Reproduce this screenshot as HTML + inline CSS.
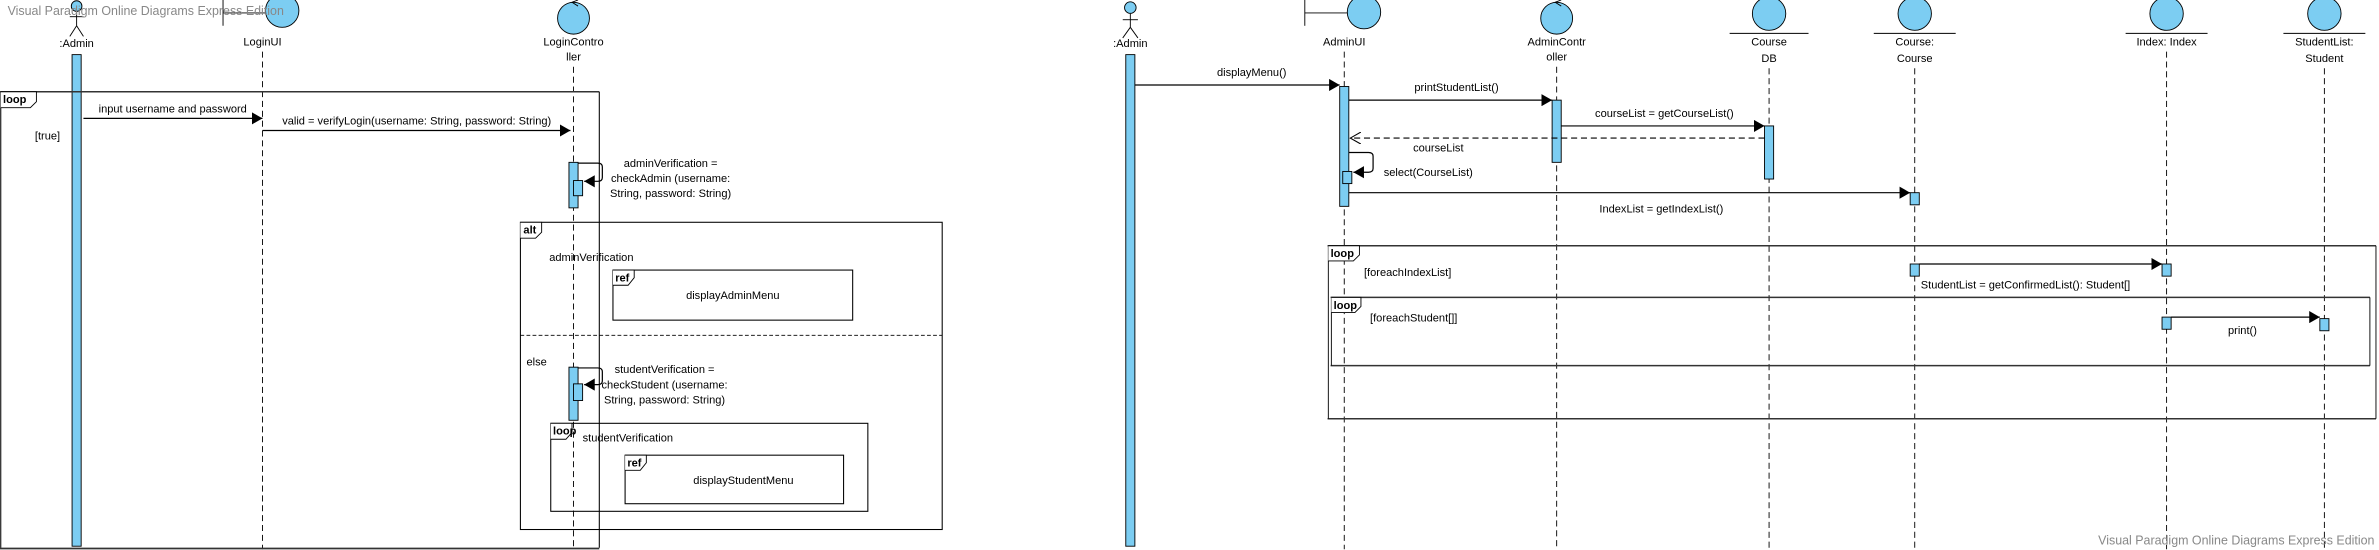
<!DOCTYPE html>
<html><head><meta charset="utf-8"><style>
html,body{margin:0;padding:0;background:#fff;}
svg{display:block;}
text{font-family:"Liberation Sans",Arial,sans-serif;font-size:7.3px;fill:#000;}
.b{font-weight:bold;}
.ll{stroke:#000;stroke-width:0.6;stroke-dasharray:4,2.5;fill:none;}
.act{fill:#7ccdf2;stroke:#000;stroke-width:0.6;}
.fr{fill:none;stroke:#000;stroke-width:0.7;}
.msg{stroke:#000;stroke-width:0.8;fill:none;}
.wm{fill:#888;font-size:8.2px;}
</style></head><body>
<svg width="2379" height="550" viewBox="0 0 1568 362.5" preserveAspectRatio="none" xmlns="http://www.w3.org/2000/svg">
<defs>
<marker id="ar" markerWidth="8" markerHeight="8" refX="7" refY="4" orient="auto" markerUnits="userSpaceOnUse">
<path d="M0,0 L7,4 L0,8 Z" fill="#000"/></marker>
<marker id="op" markerWidth="8" markerHeight="8" refX="7" refY="4" orient="auto" markerUnits="userSpaceOnUse">
<path d="M0,0 L7,4 L0,8" fill="none" stroke="#000" stroke-width="0.7"/></marker>
</defs>

<!-- ============ LEFT DIAGRAM ============ -->
<circle cx="50.5" cy="4" r="3.5" fill="#7ccdf2" stroke="#000" stroke-width="0.6"/>
<line x1="50.5" y1="7.5" x2="50.5" y2="17" stroke="#000" stroke-width="0.6"/>
<line x1="46" y1="11" x2="55" y2="11" stroke="#000" stroke-width="0.6"/>
<line x1="50.5" y1="17" x2="46" y2="24" stroke="#000" stroke-width="0.6"/>
<line x1="50.5" y1="17" x2="55" y2="24" stroke="#000" stroke-width="0.6"/>
<text x="50.5" y="31" text-anchor="middle">:Admin</text>
<rect class="act" x="47.5" y="36" width="6" height="324"/>

<line x1="147" y1="0" x2="147" y2="17" stroke="#000" stroke-width="0.6"/>
<line x1="147" y1="8.5" x2="175" y2="8.5" stroke="#000" stroke-width="0.6"/>
<circle cx="186" cy="7" r="11" fill="#7ccdf2" stroke="#000" stroke-width="0.6"/>
<text x="173" y="30" text-anchor="middle">LoginUI</text>
<line class="ll" x1="173" y1="34" x2="173" y2="362"/>

<circle cx="378" cy="12" r="10.5" fill="#7ccdf2" stroke="#000" stroke-width="0.6"/>
<path d="M381,0 L377,1.5 L381,4" fill="none" stroke="#000" stroke-width="0.6"/>
<text x="378" y="30" text-anchor="middle">LoginContro</text>
<text x="378" y="40" text-anchor="middle">ller</text>
<line class="ll" x1="378" y1="44" x2="378" y2="362"/>

<line x1="0" y1="60.5" x2="395" y2="60.5" stroke="#333" stroke-width="1"/>
<line x1="395" y1="60.5" x2="395" y2="361" stroke="#000" stroke-width="0.7"/>
<line x1="0" y1="361.5" x2="395" y2="361.5" stroke="#333" stroke-width="1.2"/>
<line x1="0.5" y1="60.5" x2="0.5" y2="361" stroke="#000" stroke-width="0.7"/>
<path d="M0.5,60.5 L24,60.5 L24,67 L20,71 L0.5,71" fill="#fff" stroke="#000" stroke-width="0.6"/>
<text x="2" y="68" class="b">loop</text>
<text x="23" y="92">[true]</text>

<line class="msg" x1="55" y1="78" x2="173" y2="78" marker-end="url(#ar)"/>
<text x="65" y="74">input username and password</text>
<line class="msg" x1="173" y1="86" x2="376" y2="86" marker-end="url(#ar)"/>
<text x="186" y="82">valid = verifyLogin(username: String, password: String)</text>

<rect class="act" x="375" y="107" width="6" height="30"/>
<rect class="act" x="378" y="119" width="6" height="10"/>
<path d="M381,107.5 L394,107.5 Q397,107.5 397,110 L397,117 Q397,119.5 394,119.5 L385,119.5" class="msg" marker-end="url(#ar)"/>
<text x="442" y="110" text-anchor="middle">adminVerification =</text>
<text x="442" y="120" text-anchor="middle">checkAdmin (username:</text>
<text x="442" y="130" text-anchor="middle">String, password: String)</text>

<rect class="fr" x="343" y="146.5" width="278" height="202.5"/>
<path d="M343,146.5 L357,146.5 L357,153 L353,157 L343,157" fill="#fff" stroke="#000" stroke-width="0.6"/>
<text x="345" y="154" class="b">alt</text>
<text x="362" y="172">adminVerification</text>
<rect class="fr" x="404" y="178" width="158" height="33"/>
<path d="M404,178 L418,178 L418,183 L414,188 L404,188" fill="#fff" stroke="#000" stroke-width="0.6"/>
<text x="405.5" y="185.5" class="b">ref</text>
<text x="483" y="197" text-anchor="middle">displayAdminMenu</text>
<line x1="343" y1="221" x2="621" y2="221" stroke="#000" stroke-width="0.6" stroke-dasharray="2.5,1.5"/>
<text x="347" y="241">else</text>

<rect class="act" x="375" y="242" width="6" height="35"/>
<rect class="act" x="378" y="253" width="6" height="11"/>
<path d="M381,242.5 L394,242.5 Q397,242.5 397,245 L397,251 Q397,253.5 394,253.5 L385,253.5" class="msg" marker-end="url(#ar)"/>
<text x="438" y="246" text-anchor="middle">studentVerification =</text>
<text x="438" y="256" text-anchor="middle">checkStudent (username:</text>
<text x="438" y="266" text-anchor="middle">String, password: String)</text>

<rect class="fr" x="363" y="279" width="209" height="58"/>
<path d="M363,279 L377,279 L377,285 L373,289.5 L363,289.5" fill="#fff" stroke="#000" stroke-width="0.6"/>
<text x="364.5" y="286.5" class="b">loop</text>
<text x="384" y="291">studentVerification</text>
<rect class="fr" x="412" y="300" width="144" height="32"/>
<path d="M412,300 L426,300 L426,305 L422,310 L412,310" fill="#fff" stroke="#000" stroke-width="0.6"/>
<text x="413.5" y="307.5" class="b">ref</text>
<text x="490" y="319" text-anchor="middle">displayStudentMenu</text>

<text x="5" y="10" class="wm">Visual Paradigm Online Diagrams Express Edition</text>

<!-- ============ RIGHT DIAGRAM ============ -->
<circle cx="745" cy="5" r="3.8" fill="#7ccdf2" stroke="#000" stroke-width="0.6"/>
<line x1="745" y1="9" x2="745" y2="18" stroke="#000" stroke-width="0.6"/>
<line x1="740" y1="13" x2="750" y2="13" stroke="#000" stroke-width="0.6"/>
<line x1="745" y1="18" x2="740" y2="25" stroke="#000" stroke-width="0.6"/>
<line x1="745" y1="18" x2="750" y2="25" stroke="#000" stroke-width="0.6"/>
<text x="745" y="31" text-anchor="middle">:Admin</text>
<rect class="act" x="742" y="36" width="6" height="324"/>

<line x1="860" y1="0" x2="860" y2="17" stroke="#000" stroke-width="0.6"/>
<line x1="860" y1="8.5" x2="890" y2="8.5" stroke="#000" stroke-width="0.6"/>
<circle cx="899" cy="8" r="11" fill="#7ccdf2" stroke="#000" stroke-width="0.6"/>
<text x="886" y="30" text-anchor="middle">AdminUI</text>
<line class="ll" x1="886" y1="34" x2="886" y2="362"/>

<circle cx="1026" cy="12" r="10.5" fill="#7ccdf2" stroke="#000" stroke-width="0.6"/>
<path d="M1029,0 L1025,1.5 L1029,4" fill="none" stroke="#000" stroke-width="0.6"/>
<text x="1026" y="30" text-anchor="middle">AdminContr</text>
<text x="1026" y="40" text-anchor="middle">oller</text>
<line class="ll" x1="1026" y1="44" x2="1026" y2="362"/>

<circle cx="1166" cy="9" r="11" fill="#7ccdf2" stroke="#000" stroke-width="0.6"/>
<line x1="1140" y1="22" x2="1192" y2="22" stroke="#000" stroke-width="0.6"/>
<text x="1166" y="30" text-anchor="middle">Course</text>
<text x="1166" y="41" text-anchor="middle">DB</text>
<line class="ll" x1="1166" y1="45" x2="1166" y2="362"/>

<circle cx="1262" cy="9" r="11" fill="#7ccdf2" stroke="#000" stroke-width="0.6"/>
<line x1="1235" y1="22" x2="1289" y2="22" stroke="#000" stroke-width="0.6"/>
<text x="1262" y="30" text-anchor="middle">Course:</text>
<text x="1262" y="41" text-anchor="middle">Course</text>
<line class="ll" x1="1262" y1="45" x2="1262" y2="362"/>

<circle cx="1428" cy="9" r="11" fill="#7ccdf2" stroke="#000" stroke-width="0.6"/>
<line x1="1401" y1="22" x2="1455" y2="22" stroke="#000" stroke-width="0.6"/>
<text x="1428" y="30" text-anchor="middle">Index: Index</text>
<line class="ll" x1="1428" y1="34" x2="1428" y2="362"/>

<circle cx="1532" cy="9" r="11" fill="#7ccdf2" stroke="#000" stroke-width="0.6"/>
<line x1="1505" y1="22" x2="1559" y2="22" stroke="#000" stroke-width="0.6"/>
<text x="1532" y="30" text-anchor="middle">StudentList:</text>
<text x="1532" y="41" text-anchor="middle">Student</text>
<line class="ll" x1="1532" y1="45" x2="1532" y2="362"/>

<line class="msg" x1="748" y1="56" x2="883" y2="56" marker-end="url(#ar)"/>
<text x="825" y="50" text-anchor="middle">displayMenu()</text>
<rect class="act" x="883" y="57" width="6" height="79"/>

<line class="msg" x1="889" y1="66" x2="1023" y2="66" marker-end="url(#ar)"/>
<text x="960" y="60" text-anchor="middle">printStudentList()</text>
<rect class="act" x="1023" y="66" width="6" height="41"/>

<line class="msg" x1="1029" y1="83" x2="1163" y2="83" marker-end="url(#ar)"/>
<text x="1097" y="77" text-anchor="middle">courseList = getCourseList()</text>
<rect class="act" x="1163" y="83" width="6" height="35"/>

<line x1="1163" y1="91" x2="890" y2="91" stroke="#000" stroke-width="0.8" stroke-dasharray="4,2.5" marker-end="url(#op)"/>
<text x="948" y="100" text-anchor="middle">courseList</text>

<rect class="act" x="885" y="113" width="6" height="8"/>
<path d="M889,100.5 L902,100.5 Q905,100.5 905,103 L905,111 Q905,113.5 902,113.5 L892,113.5" class="msg" marker-end="url(#ar)"/>
<text x="912" y="116">select(CourseList)</text>

<line class="msg" x1="889" y1="127" x2="1259" y2="127" marker-end="url(#ar)"/>
<text x="1095" y="140" text-anchor="middle">IndexList = getIndexList()</text>
<rect class="act" x="1259" y="127" width="6" height="8"/>

<line x1="875" y1="162" x2="1566" y2="162" stroke="#333" stroke-width="1"/>
<line x1="875" y1="276" x2="1566" y2="276" stroke="#333" stroke-width="1"/>
<line x1="875.5" y1="162" x2="875.5" y2="276" stroke="#000" stroke-width="0.6"/>
<line x1="1566" y1="162" x2="1566" y2="276" stroke="#000" stroke-width="0.6"/>
<path d="M875.5,162 L896,162 L896,168 L892,172 L875.5,172" fill="#fff" stroke="#000" stroke-width="0.6"/>
<text x="877" y="169.5" class="b">loop</text>
<text x="899" y="182">[foreachIndexList]</text>

<rect class="act" x="1259" y="174" width="6" height="8"/>
<line class="msg" x1="1265" y1="174" x2="1425" y2="174" marker-end="url(#ar)"/>
<rect class="act" x="1425" y="174" width="6" height="8"/>
<text x="1266" y="190">StudentList = getConfirmedList(): Student[]</text>

<line x1="877" y1="196" x2="1562" y2="196" stroke="#333" stroke-width="1"/>
<line x1="877" y1="241" x2="1562" y2="241" stroke="#333" stroke-width="1"/>
<line x1="877.5" y1="196" x2="877.5" y2="241" stroke="#000" stroke-width="0.6"/>
<line x1="1562" y1="196" x2="1562" y2="241" stroke="#000" stroke-width="0.6"/>
<path d="M877.5,196 L897,196 L897,202 L893,206 L877.5,206" fill="#fff" stroke="#000" stroke-width="0.6"/>
<text x="879" y="203.5" class="b">loop</text>
<text x="903" y="212">[foreachStudent[]]</text>

<rect class="act" x="1425" y="209" width="6" height="8"/>
<line class="msg" x1="1431" y1="209" x2="1529" y2="209" marker-end="url(#ar)"/>
<rect class="act" x="1529" y="210" width="6" height="8"/>
<text x="1478" y="220" text-anchor="middle">print()</text>

<text x="1565" y="359" text-anchor="end" class="wm">Visual Paradigm Online Diagrams Express Edition</text>
</svg>
</body></html>
